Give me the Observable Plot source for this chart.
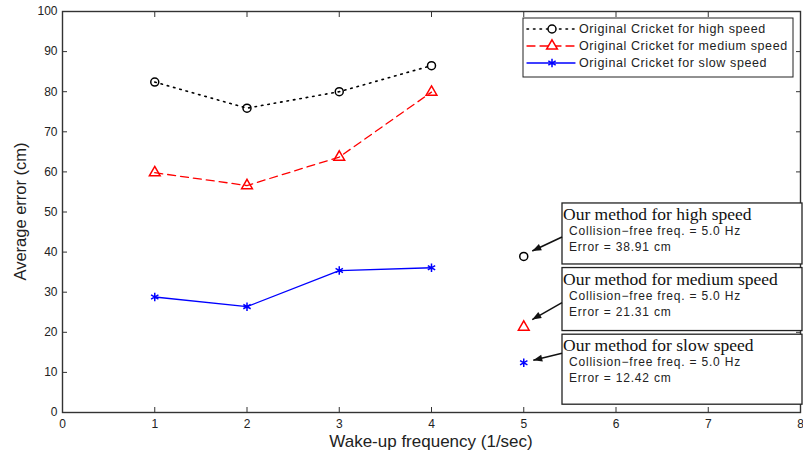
<!DOCTYPE html>
<html><head><meta charset="utf-8">
<script src="https://cdn.jsdelivr.net/npm/d3@7"></script>
<script src="https://cdn.jsdelivr.net/npm/@observablehq/plot@0.6"></script>
<style>body{margin:0;background:#fff} #chart{width:803px;height:453px}</style>
</head><body><div id="chart"></div>
<script>
// ---- data ----
const wakeFreq = [1, 2, 3, 4];
const highSpeed = [82.4, 75.9, 80.0, 86.5];
const mediumSpeed = [59.8, 56.6, 63.7, 79.9];
const slowSpeed = [28.8, 26.4, 35.4, 36.1];
const ourFreq = 5;
const ourValues = [38.91, 21.31, 12.42];
const seriesNames = ["Original Cricket for high speed", "Original Cricket for medium speed", "Original Cricket for slow speed"];
const annotTitles = ["Our method for high speed", "Our method for medium speed", "Our method for slow speed"];
const annotFreq = ["Collision\u2212free freq. = 5.0 Hz", "Collision\u2212free freq. = 5.0 Hz", "Collision\u2212free freq. = 5.0 Hz"];
const annotError = ["Error = 38.91 cm", "Error = 21.31 cm", "Error = 12.42 cm"];
const xTicks = [0, 1, 2, 3, 4, 5, 6, 7, 8];
const yTicks = [0, 10, 20, 30, 40, 50, 60, 70, 80, 90, 100];
const xLabel = "Wake-up frequency (1/sec)";
const yLabel = "Average error (cm)";

// ---- styles ----
const styles = [
  {stroke: "#000", dash: "1.5,5", symbol: "circle"},
  {stroke: "#ff0000", dash: "8,5", symbol: "triangle"},
  {stroke: "#0000ff", dash: null, symbol: "asterisk"}
];
const seriesVals = [highSpeed, mediumSpeed, slowSpeed];
const rows = seriesVals.map(vals => wakeFreq.map((x, i) => ({x, y: vals[i]})));
const ourRows = ourValues.map(v => ({x: ourFreq, y: v}));

const M = {top: 11, right: 3, bottom: 41, left: 62};
const W = 803, H = 453;
const font = "'Liberation Sans', Arial, Helvetica, sans-serif";
const serif = "'Liberation Serif', 'Times New Roman', serif";

const marks = [
  Plot.axisX({anchor: "bottom", ticks: xTicks, tickSize: 0, tickPadding: 7, fontSize: 12, label: null, color: "#222"}),
  Plot.axisX({anchor: "bottom", ticks: xTicks, tickSize: 5, dy: -5, tickFormat: () => "", label: null, stroke: "#333"}),
  Plot.axisX({anchor: "top", ticks: xTicks, tickSize: 5, dy: 5, tickFormat: () => "", label: null, stroke: "#333"}),
  Plot.axisY({anchor: "left", ticks: yTicks, tickSize: 0, tickPadding: 5, fontSize: 12, label: null, color: "#222"}),
  Plot.axisY({anchor: "left", ticks: yTicks, tickSize: 5, dx: 5, tickFormat: () => "", label: null, stroke: "#333"}),
  Plot.axisY({anchor: "right", ticks: yTicks, tickSize: 5, dx: -5, tickFormat: () => "", label: null, stroke: "#333"}),
];
rows.forEach((r, i) => {
  const s = styles[i];
  marks.push(Plot.line(r, {x: "x", y: "y", stroke: s.stroke, strokeWidth: i === 0 ? 1.6 : 1.3, strokeDasharray: s.dash, strokeLinecap: "round"}));
  marks.push(Plot.dot(r, {x: "x", y: "y", stroke: s.stroke, symbol: s.symbol, r: 4, strokeWidth: 1.5}));
  marks.push(Plot.dot([ourRows[i]], {x: "x", y: "y", stroke: s.stroke, symbol: s.symbol, r: 4, strokeWidth: 1.5}));
});
marks.push(Plot.frame({stroke: "#333", strokeWidth: 1.4}));

const plot = Plot.plot({
  width: W, height: H,
  marginTop: M.top, marginRight: M.right, marginBottom: M.bottom, marginLeft: M.left,
  x: {domain: [0, 8]},
  y: {domain: [0, 100]},
  style: {fontFamily: font, background: "#fff"},
  marks
});
document.getElementById("chart").appendChild(plot);

const xs = d3.scaleLinear([0, 8], [M.left, W - M.right]);
const ys = d3.scaleLinear([0, 100], [H - M.bottom, M.top]);
const svg = d3.select(plot);

// axis titles
svg.append("text").attr("x", 431).attr("y", 447)
  .attr("text-anchor", "middle").attr("font-family", font).attr("font-size", 17).attr("fill", "#222").text(xLabel);
svg.append("text").attr("transform", `translate(26,${(M.top + H - M.bottom) / 2}) rotate(-90)`)
  .attr("text-anchor", "middle").attr("font-family", font).attr("font-size", 16.5).attr("fill", "#222").text(yLabel);

// legend
const lg = svg.append("g").attr("text-anchor", "start");
lg.append("rect").attr("x", 523).attr("y", 18).attr("width", 270).attr("height", 59)
  .attr("fill", "#fff").attr("stroke", "#222").attr("stroke-width", 1);
seriesNames.forEach((name, i) => {
  const s = styles[i];
  const yy = 29 + i * 17;
  lg.append("line").attr("x1", 527).attr("x2", 575).attr("y1", yy).attr("y2", yy)
    .attr("stroke", s.stroke).attr("stroke-width", i === 0 ? 1.6 : 1.3)
    .attr("stroke-dasharray", s.dash).attr("stroke-linecap", "round");
  const sym = {circle: d3.symbolCircle, triangle: d3.symbolTriangle, asterisk: d3.symbolAsterisk}[s.symbol];
  lg.append("path").attr("d", d3.symbol(sym, 16 * Math.PI)()).attr("transform", `translate(552,${yy})`)
    .attr("fill", "#fff").attr("stroke", s.stroke).attr("stroke-width", 1.5);
  lg.append("text").attr("x", 579).attr("y", yy + 4).attr("text-anchor", "start").attr("font-family", font)
    .attr("font-size", 12.5).attr("letter-spacing", 0.6).attr("fill", "#222").text(name);
});

// annotation boxes with arrows
const boxTopOffset = [53, 59, 28];
const boxHeight = [61, 63, 70];
const arrowStartOffset = [34, 35, 19];
const arrowEndOffset = [[9, -5], [9, -7], [10, -2]];
ourRows.forEach((d, i) => {
  const px = xs(d.x), py = ys(d.y);
  const top = py - boxTopOffset[i];
  const g = svg.append("g").attr("text-anchor", "start");
  g.append("rect").attr("x", 562).attr("y", top).attr("width", 240).attr("height", boxHeight[i])
    .attr("fill", "#fff").attr("stroke", "#222").attr("stroke-width", 1.3);
  g.append("text").attr("x", 563).attr("y", top + 17).attr("text-anchor", "start").attr("font-family", serif).attr("font-size", 17.5)
    .attr("fill", "#111").text(annotTitles[i]);
  g.append("text").attr("x", 569).attr("y", top + 32).attr("text-anchor", "start").attr("font-family", font).attr("font-size", 12)
    .attr("letter-spacing", 0.8).attr("fill", "#222").text(annotFreq[i]);
  g.append("text").attr("x", 569).attr("y", top + 48).attr("text-anchor", "start").attr("font-family", font).attr("font-size", 12)
    .attr("letter-spacing", 0.8).attr("fill", "#222").text(annotError[i]);
  const x1 = 562, y1 = top + arrowStartOffset[i];
  const x2 = px + arrowEndOffset[i][0], y2 = py + arrowEndOffset[i][1];
  g.append("line").attr("x1", x1).attr("y1", y1).attr("x2", x2).attr("y2", y2)
    .attr("stroke", "#111").attr("stroke-width", 1.5);
  const ang = Math.atan2(y2 - y1, x2 - x1);
  const L = 9, Wd = 3.5;
  const bx = x2 - L * Math.cos(ang), by = y2 - L * Math.sin(ang);
  const nx = -Math.sin(ang), ny = Math.cos(ang);
  g.append("path").attr("d", `M${x2},${y2}L${bx + nx * Wd},${by + ny * Wd}L${bx - nx * Wd},${by - ny * Wd}Z`)
    .attr("fill", "#111");
});
</script>
</body></html>
